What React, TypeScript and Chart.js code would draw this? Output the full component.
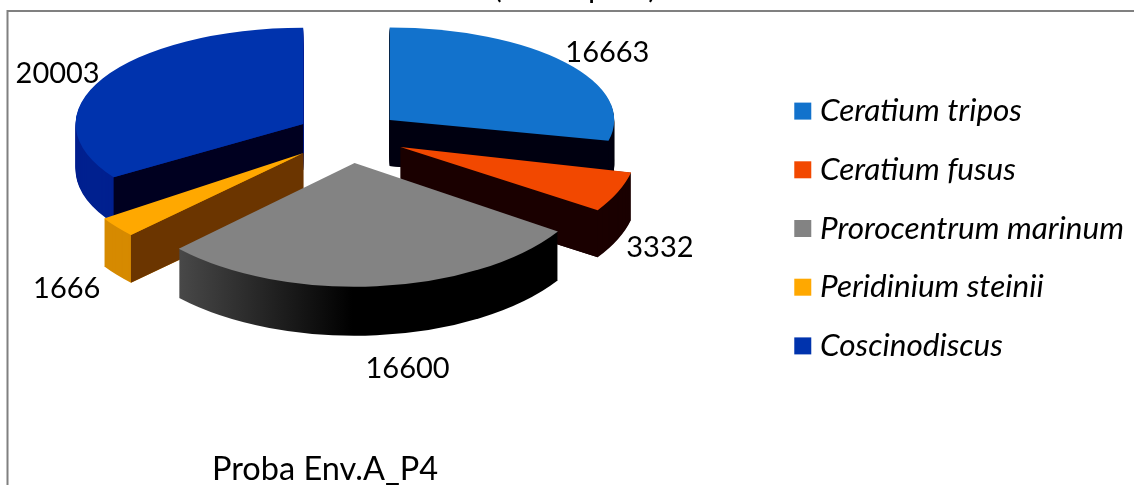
import React, { useEffect, useRef } from "react";
import { Chart, registerables } from "chart.js";

Chart.register(...registerables);

const categories = ["Ceratium tripos", "Ceratium fusus", "Prorocentrum marinum", "Peridinium steinii", "Coscinodiscus"];
const values = [16663, 3332, 16600, 1666, 20003];
const topColors = ["#1272cc", "#f24800", "#838383", "#ffa800", "#0033ad"];
const rimColors = ["#000010", "#1a0000", "#000000", "#d68a00", "#00208f"];
const cutColors = ["#000010", "#1a0000", "#000000", "#6b3500", "#000020"];
const labelNudges = [[42, -10], [42, 56], [31, 82], [-50, 62], [-45, -5]];
const bottomCaption = "Proba Env.A_P4";
const clippedTitle = "(celule per l)";

const FONT = "Lato, Carlito, 'Open Sans', sans-serif";
const CX = 349, CY = 136.5;
const drawOrder = [0, 4, 1, 3, 2];

const pie3d = {
  id: "pie3d",
  beforeDatasetsDraw(chart: any) {
    const ctx = chart.ctx;
    const meta = chart.getDatasetMeta(0);
    ctx.save();
    ctx.strokeStyle = "#808080";
    ctx.lineWidth = 2;
    ctx.beginPath();
    ctx.moveTo(7.5, 485);
    ctx.lineTo(7.5, 11);
    ctx.lineTo(1134, 11);
    ctx.stroke();

    ctx.fillStyle = "#000";
    ctx.font = `31px ${FONT}`;
    ctx.textAlign = "center";
    ctx.textBaseline = "alphabetic";
    ctx.fillText(clippedTitle, 575, -2);

    for (const i of drawOrder) {
      const arc = meta.data[i];
      const { x, y, startAngle, endAngle, outerRadius } = arc.getProps(["x", "y", "startAngle", "endAngle", "outerRadius"], true);
      const mid = (startAngle + endAngle) / 2;
      // perspective: slices nearer the viewer are larger
      const near = Math.sin(mid);
      const Rx = near < 0 ? 237 + 20 * near : 232 + 12 * near;
      const Ry = near < 0 ? 108 + 25 * near : 108 + 16 * near;
      const depth = 46 + 3 * Math.max(near, 0);
      const ax = CX + (52 + 10 * Math.max(near, 0)) * Math.cos(mid);
      const ay = CY + 26.5 * Math.sin(mid);
      const sx = Rx / outerRadius;
      const sy = Ry / outerRadius;

      const drawArc = (dy: number, color: any) => {
        ctx.save();
        ctx.translate(ax, ay + dy);
        ctx.scale(sx, sy);
        ctx.translate(-x, -y);
        arc.options.backgroundColor = color;
        arc.options.borderColor = color;
        arc.options.borderWidth = 0;
        arc.draw(ctx);
        ctx.restore();
      };

      let rim: any = rimColors[i];
      if (i === 2) {
        const g = ctx.createLinearGradient(ax - 176, 0, ax + 30, 0);
        g.addColorStop(0, "#5c5c5c");
        g.addColorStop(1, "#000000");
        rim = g;
      }
      for (let d = depth; d > 0; d -= 1) drawArc(d, rim);

      // cut faces whose wall normal points down the screen
      const face = (a: number) => {
        const px = ax + Rx * Math.cos(a);
        const py = ay + Ry * Math.sin(a);
        ctx.fillStyle = cutColors[i];
        ctx.beginPath();
        ctx.moveTo(ax, ay);
        ctx.lineTo(px, py);
        ctx.lineTo(px, py + depth);
        ctx.lineTo(ax, ay + depth);
        ctx.closePath();
        ctx.fill();
      };
      if (Math.cos(startAngle) < -0.01) face(startAngle);
      if (Math.cos(endAngle) > 0.01) face(endAngle);

      drawArc(0, topColors[i]);

      ctx.fillStyle = "#000";
      ctx.font = `29px ${FONT}`;
      ctx.textAlign = "center";
      ctx.textBaseline = "middle";
      ctx.fillText(String(values[i]), ax + Rx * Math.cos(mid) + labelNudges[i][0], ay + Ry * Math.sin(mid) + labelNudges[i][1]);
    }

    ctx.fillStyle = "#000";
    ctx.font = `32.5px ${FONT}`;
    ctx.textAlign = "left";
    ctx.textBaseline = "alphabetic";
    ctx.fillText(bottomCaption, 212, 480);
    ctx.restore();
    return false;
  },
};

export default function App() {
  const ref = useRef<HTMLCanvasElement>(null);
  useEffect(() => {
    document.body.style.margin = "0";
    document.body.style.overflow = "hidden";
    const chart = new Chart(ref.current!, {
      type: "pie",
      data: {
        labels: categories,
        datasets: [{ data: values, backgroundColor: topColors, borderWidth: 0 }],
      },
      options: {
        responsive: false,
        animation: false,
        events: [],
        layout: { padding: { bottom: 28, right: 0 } },
        plugins: {
          title: { display: false },
          tooltip: { enabled: false },
          legend: {
            position: "right",
            labels: {
              boxWidth: 3,
              boxHeight: 3,
              padding: 27.2,
              color: "#000",
              font: { family: FONT, size: 31.5, style: "italic" },
              generateLabels: () =>
                categories.map((text, i) => ({
                  text,
                  fillStyle: topColors[i],
                  strokeStyle: topColors[i],
                  lineWidth: 14,
                  hidden: false,
                  index: i,
                  fontColor: "#000",
                })),
            },
          },
        },
      },
      plugins: [pie3d],
    } as any);
    return () => chart.destroy();
  }, []);
  return <canvas ref={ref} width={1134} height={485} style={{ display: "block", filter: "blur(0.45px)" }} />;
}
